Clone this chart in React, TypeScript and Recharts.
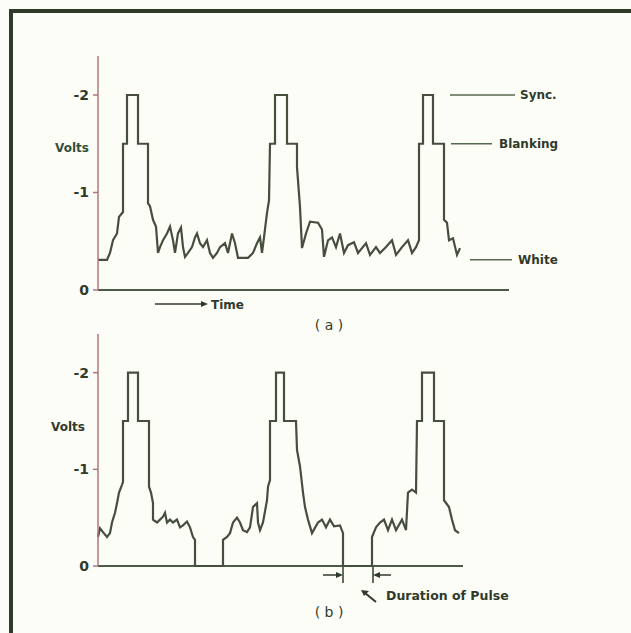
import { LineChart, Line, XAxis, YAxis, ReferenceLine } from "recharts";

// waveform (a): composite video, time in arbitrary units, volts (negative up)
const timeA = [
  0, 9, 12, 15, 19, 21, 25, 25, 29, 29, 40, 40, 50, 50, 52, 55, 58, 60, 62, 65,
  69, 72, 75, 77, 80, 83, 85, 87, 90, 94, 97, 99, 102, 105, 109, 112, 115, 119,
  122, 127, 130, 134, 137, 140, 150, 155, 159, 162, 164, 166, 169, 171, 172,
  177, 177, 189, 189, 199, 199, 202, 204, 208, 212, 220, 224, 226, 230, 234,
  238, 242, 246, 250, 256, 260, 264, 268, 272, 278, 282, 288, 294, 298, 304,
  310, 314, 318, 321, 321, 325, 325, 335, 335, 346, 346, 349, 351, 355, 359,
  362,
];
const voltsA = [
  -0.31, -0.31, -0.38, -0.51, -0.58, -0.75, -0.8, -1.5, -1.5, -2, -2, -1.5,
  -1.5, -0.89, -0.86, -0.72, -0.65, -0.38, -0.44, -0.51, -0.58, -0.65, -0.51,
  -0.38, -0.58, -0.64, -0.44, -0.34, -0.38, -0.44, -0.54, -0.58, -0.48, -0.44,
  -0.51, -0.38, -0.33, -0.38, -0.44, -0.48, -0.38, -0.58, -0.48, -0.33, -0.33,
  -0.38, -0.48, -0.54, -0.38, -0.54, -0.79, -0.92, -1.5, -1.5, -2, -2, -1.5,
  -1.5, -1.26, -0.85, -0.43, -0.58, -0.7, -0.69, -0.62, -0.34, -0.51, -0.54,
  -0.44, -0.58, -0.38, -0.46, -0.49, -0.38, -0.43, -0.48, -0.36, -0.44, -0.38,
  -0.44, -0.51, -0.36, -0.44, -0.51, -0.38, -0.44, -0.51, -1.5, -1.5, -2, -2,
  -1.5, -1.5, -0.72, -0.69, -0.51, -0.53, -0.36, -0.43,
];

// waveform (b): same signal with pulses down to zero
const timeB = [
  0, 2, 5, 9, 12, 14, 17, 19, 21, 24, 25, 25, 30, 30, 40, 40, 51, 51, 53, 55,
  55, 59, 62, 65, 67, 69, 72, 75, 79, 82, 85, 89, 92, 95, 97, 97, 125, 125,
  129, 132, 135, 139, 142, 145, 149, 152, 155, 159, 160, 162, 165, 169, 170,
  172, 172, 178, 178, 186, 186, 198, 199, 202, 205, 207, 210, 214, 220, 224,
  228, 232, 236, 242, 245, 245, 274, 274, 278, 282, 286, 290, 294, 298, 304,
  308, 310, 314, 318, 319, 324, 324, 336, 336, 346, 346, 351, 354, 357, 361,
];
const voltsB = [
  -0.3, -0.39, -0.35, -0.3, -0.34, -0.45, -0.55, -0.65, -0.76, -0.84, -0.87,
  -1.5, -1.5, -2, -2, -1.5, -1.5, -0.82, -0.76, -0.65, -0.48, -0.45, -0.48,
  -0.51, -0.55, -0.45, -0.48, -0.45, -0.48, -0.4, -0.42, -0.46, -0.4, -0.3,
  -0.27, 0, 0, -0.27, -0.3, -0.34, -0.45, -0.5, -0.45, -0.37, -0.35, -0.4,
  -0.61, -0.65, -0.45, -0.37, -0.45, -0.68, -0.82, -0.89, -1.5, -1.5, -2, -2,
  -1.5, -1.5, -1.2, -1.03, -0.76, -0.61, -0.48, -0.34, -0.45, -0.48, -0.4,
  -0.48, -0.41, -0.42, -0.34, 0, 0, -0.3, -0.4, -0.45, -0.48, -0.37, -0.48,
  -0.37, -0.48, -0.37, -0.76, -0.79, -0.76, -1.5, -1.5, -2, -2, -1.5, -1.5,
  -0.68, -0.61, -0.48, -0.37, -0.34,
];

const voltTicks = [0, -1, -2];
const levelLabels = ["Sync.", "Blanking", "White"];

const dataA = timeA.map((t, i) => ({ t, v: voltsA[i] }));
const dataB = timeB.map((t, i) => ({ t, v: voltsB[i] }));

const INK = "#2f3a2b";
const TRACE = "#464e3e";
const AXIS = "#b07480";
const FONT = "DejaVu Sans, sans-serif";

const tickStyle = { fill: INK, fontSize: 14, fontWeight: 700, fontFamily: FONT };
const labelStyle = { fill: INK, fontSize: 12, fontWeight: 700, fontFamily: FONT };

function Arrow({ x1, x2, y }: { x1: number; x2: number; y: number }) {
  const dir = x2 > x1 ? 1 : -1;
  return (
    <g>
      <line x1={x1} y1={y} x2={x2 - dir * 4} y2={y} stroke={INK} strokeWidth={1.5} />
      <polygon
        points={`${x2},${y} ${x2 - dir * 7},${y - 3} ${x2 - dir * 7},${y + 3}`}
        fill={INK}
      />
    </g>
  );
}

export default function App() {
  const yAxis = (
    <YAxis
      type="number"
      domain={[-2.4, 0]}
      reversed
      ticks={voltTicks}
      tickFormatter={(v: number) => String(v)}
      width={98}
      tickSize={5}
      tickMargin={4}
      stroke={AXIS}
      strokeWidth={1.5}
      tick={tickStyle}
    />
  );
  return (
    <div
      style={{
        position: "absolute",
        left: 0,
        top: 0,
        width: 631,
        height: 633,
        background: "#fdfdf8",
        overflow: "hidden",
      }}
    >
      <div
        style={{
          position: "absolute",
          left: 9,
          top: 9,
          width: 630,
          height: 640,
          borderLeft: `4px solid ${INK}`,
          borderTop: `4px solid ${INK}`,
        }}
      />

      <div style={{ position: "absolute", left: 0, top: 0 }}>
        <LineChart width={631} height={340} data={dataA} margin={{ top: 56, right: 3, bottom: 50, left: 0 }}>
          <XAxis type="number" dataKey="t" domain={[0, 530]} hide />
          {yAxis}
          <ReferenceLine segment={[{ x: 0, y: 0 }, { x: 411, y: 0 }]} stroke="#4d5a48" strokeWidth={2} />
          <ReferenceLine
            segment={[{ x: 352, y: -2 }, { x: 417, y: -2 }]}
            stroke="#56684f"
            strokeWidth={1.5}
            label={{ value: levelLabels[0], position: "right", offset: 5, ...labelStyle }}
          />
          <ReferenceLine
            segment={[{ x: 353, y: -1.5 }, { x: 394, y: -1.5 }]}
            stroke="#56684f"
            strokeWidth={1.5}
            label={{ value: levelLabels[1], position: "right", offset: 7, ...labelStyle }}
          />
          <ReferenceLine
            segment={[{ x: 372, y: -0.31 }, { x: 414, y: -0.31 }]}
            stroke="#56684f"
            strokeWidth={1.5}
            label={{ value: levelLabels[2], position: "right", offset: 6, ...labelStyle }}
          />
          <Line
            type="linear"
            dataKey="v"
            stroke={TRACE}
            strokeWidth={2.2}
            dot={false}
            isAnimationActive={false}
          />
        </LineChart>
      </div>

      <div style={{ position: "absolute", left: 0, top: 300 }}>
        <LineChart width={631} height={300} data={dataB} margin={{ top: 34, right: 3, bottom: 34, left: 0 }}>
          <XAxis type="number" dataKey="t" domain={[0, 530]} hide />
          {yAxis}
          <ReferenceLine segment={[{ x: 0, y: 0 }, { x: 365, y: 0 }]} stroke="#4d5a48" strokeWidth={2} />
          <Line
            type="linear"
            dataKey="v"
            stroke={TRACE}
            strokeWidth={2.2}
            dot={false}
            isAnimationActive={false}
          />
        </LineChart>
      </div>

      <svg
        width={631}
        height={633}
        style={{ position: "absolute", left: 0, top: 0, pointerEvents: "none" }}
        fontFamily={FONT}
      >
        <text x={55} y={148} dominantBaseline="middle" {...labelStyle} fill="#30503a">Volts</text>
        <text x={51} y={427} dominantBaseline="middle" {...labelStyle}>Volts</text>

        <Arrow x1={155} x2={208} y={304} />
        <text x={211} y={305} dominantBaseline="middle" {...labelStyle}>Time</text>
        <text x={329} y={326} textAnchor="middle" dominantBaseline="middle" {...labelStyle} fontSize={14} fontWeight={400}>( a )</text>

        <line x1={343} y1={567} x2={343} y2={583} stroke={INK} strokeWidth={1.5} />
        <line x1={373} y1={567} x2={373} y2={583} stroke={INK} strokeWidth={1.5} />
        <Arrow x1={323} x2={343} y={575} />
        <Arrow x1={391} x2={373} y={575} />
        <line x1={376} y1={602} x2={365} y2={593} stroke={INK} strokeWidth={2} />
        <polygon points="361,590 369,591 364,596" fill={INK} />
        <text x={386} y={596} dominantBaseline="middle" {...labelStyle} fontSize={12.5}>Duration of Pulse</text>
        <text x={329} y={613} textAnchor="middle" dominantBaseline="middle" {...labelStyle} fontSize={14} fontWeight={400}>( b )</text>
      </svg>
    </div>
  );
}
